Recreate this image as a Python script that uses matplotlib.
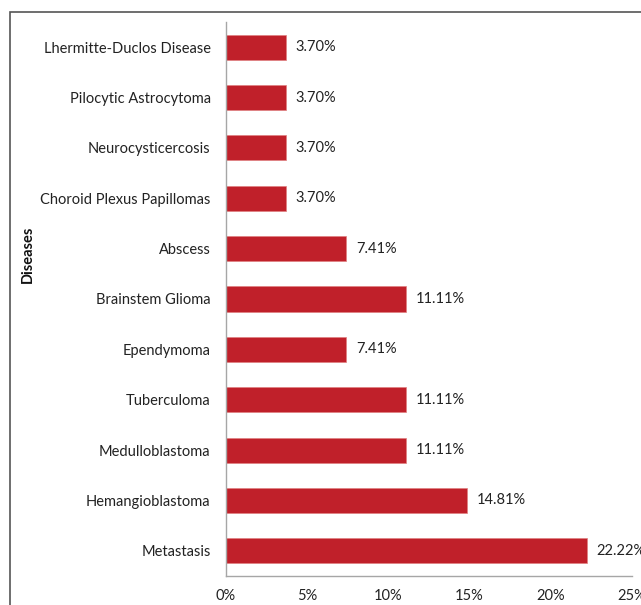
import numpy as np
import matplotlib.pyplot as plt
from matplotlib.patches import Rectangle

plt.rcParams['font.family'] = ['Lato', 'DejaVu Sans']

diseases = ['Metastasis', 'Hemangioblastoma', 'Medulloblastoma', 'Tuberculoma',
            'Ependymoma', 'Brainstem Glioma', 'Abscess', 'Choroid Plexus Papillomas',
            'Neurocysticercosis', 'Pilocytic Astrocytoma', 'Lhermitte-Duclos Disease']
percent = [22.22, 14.81, 11.11, 11.11, 7.41, 11.11, 7.41, 3.70, 3.70, 3.70, 3.70]
xticks = [0, 5, 10, 15, 20, 25]

fig = plt.figure(figsize=(6.41, 6.05), dpi=100)
ax = fig.add_axes([226/641, 1-576/605, (632-226)/641, (576-22)/605])

y = np.arange(len(diseases))
ax.barh(y, percent, height=0.5, color='#C0202A', edgecolor='#E08080', linewidth=0.5)
for yi, v in zip(y, percent):
    ax.text(v + 0.6, yi, '%.2f%%' % v, va='center', ha='left', fontsize=10.5, color='#222222')

ax.set_ylim(-0.5, len(diseases) - 0.5)
ax.set_xlim(0, 25)
ax.set_yticks(y)
ax.set_yticklabels(diseases, fontsize=10.5, color='#222222')
ax.set_xticks(xticks)
ax.set_xticklabels(['%d%%' % t for t in xticks], fontsize=10.5, color='#222222')
ax.tick_params(length=0, pad=11)
ax.tick_params(axis='x', pad=9)
for s in ['top', 'right']:
    ax.spines[s].set_visible(False)
for s in ['left', 'bottom']:
    ax.spines[s].set_color('#A6A6A6')
    ax.spines[s].set_linewidth(1)

fig.text(28/641, 1-254/605, 'Diseases', rotation=90, ha='center', va='center',
         fontsize=10.5, fontweight='bold', color='#111111')

fig.patches.append(Rectangle((10/641, -0.1), 1.0, 1.1 - 12/605 + 0.0, transform=fig.transFigure,
                             fill=False, edgecolor='#555555', linewidth=1.2))

fig.savefig('out.png', dpi=100)
